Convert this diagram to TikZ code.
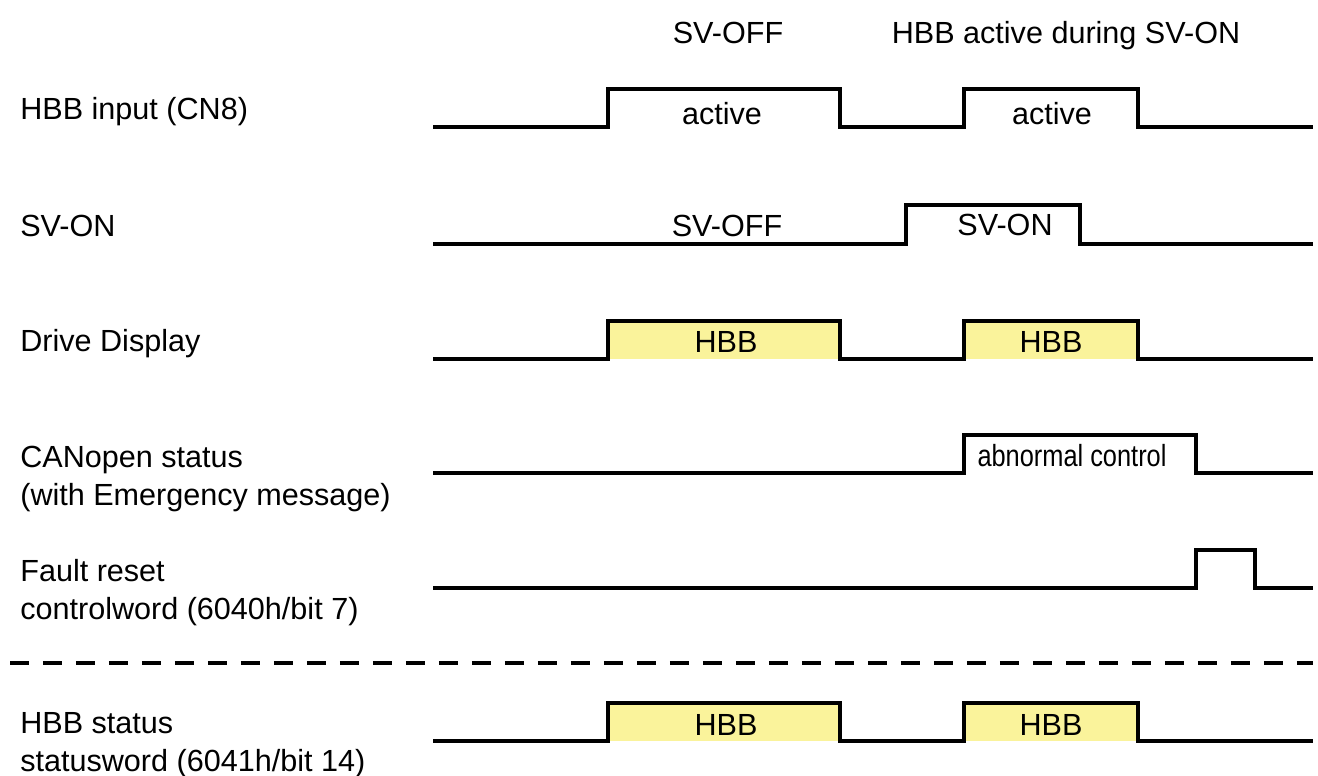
\documentclass[tikz,border=0pt]{standalone}
\usepackage{fontspec}
\setmainfont{Liberation Sans}
\definecolor{hbbyellow}{RGB}{250,243,155}

\begin{document}
\begin{tikzpicture}[x=0.02cm,y=-0.02cm,
      lbl/.style={anchor=base west,inner sep=0pt,align=left,
                  font=\fontsize{17.4}{21.5}\selectfont},
      txt/.style={anchor=base,inner sep=0pt,font=\fontsize{17.4}{21.5}\selectfont},
      wave/.style={line width=2.1pt,line join=miter},
      hbbbox/.style={fill=hbbyellow},
      sep/.style={line width=2.8pt,dash pattern=on 0.38cm off 0.28cm}]
    \useasboundingbox (0,0) rectangle (1318,776);

    % ---- column headings ----------------------------------------------
    \node[txt] (hoff) at (728,44) {SV-OFF};
    \node[txt] (hon) at (1066,44) {HBB active during SV-ON};

    % ---- HBB input (CN8) ----------------------------------------------
    \node[lbl] (lin) at (20,120) {HBB input (CN8)};
    \draw[wave] (433,127) -| (608,89) -| (840,127) -| (964,89) -| (1138,127) -- (1313,127);
    \node[txt] (act1) at (722,125) {active};
    \node[txt] (act2) at (1052,125) {active};

    % ---- SV-ON --------------------------------------------------------
    \node[lbl] (lsv) at (20,237) {SV-ON};
    \draw[wave] (433,244) -| (906,205) -| (1080,244) -- (1313,244);
    \node[txt] (svoff) at (727,237) {SV-OFF};
    \node[txt] (svon) at (1005,236) {SV-ON};

    % ---- Drive Display ------------------------------------------------
    \node[lbl] (ldisp) at (20,352) {Drive Display};
    \fill[hbbbox] (608,321) rectangle (840,359);
    \fill[hbbbox] (964,321) rectangle (1138,359);
    \draw[wave] (433,359) -| (608,321) -| (840,359) -| (964,321) -| (1138,359) -- (1313,359);
    \node[txt] (disp1) at (726,353) {HBB};
    \node[txt] (disp2) at (1051,353) {HBB};

    % ---- CANopen status (base = last line) ----------------------------
    \node[lbl] (lcan) at (20,505) {CANopen status\\(with Emergency message)};
    \draw[wave] (433,473) -| (964,435) -| (1196,473) -- (1313,473);
    \node[txt] (abn) at (1072,467) {\scalebox{0.83}[1]{abnormal control}};

    % ---- Fault reset --------------------------------------------------
    \node[lbl] (lfault) at (20,619) {Fault reset\\controlword (6040h/bit 7)};
    \draw[wave] (433,588) -| (1196,550) -| (1255,588) -- (1313,588);

    % ---- separator ----------------------------------------------------
    \draw[sep] (10,663) -- (1313,663);

    % ---- HBB status ---------------------------------------------------
    \node[lbl] (lstat) at (20,771) {HBB status\\statusword (6041h/bit 14)};
    \fill[hbbbox] (608,703) rectangle (840,741);
    \fill[hbbbox] (964,703) rectangle (1138,741);
    \draw[wave] (433,741) -| (608,703) -| (840,741) -| (964,703) -| (1138,741) -- (1313,741);
    \node[txt] (stat1) at (726,735) {HBB};
    \node[txt] (stat2) at (1051,735) {HBB};
  \end{tikzpicture}
\end{document}
